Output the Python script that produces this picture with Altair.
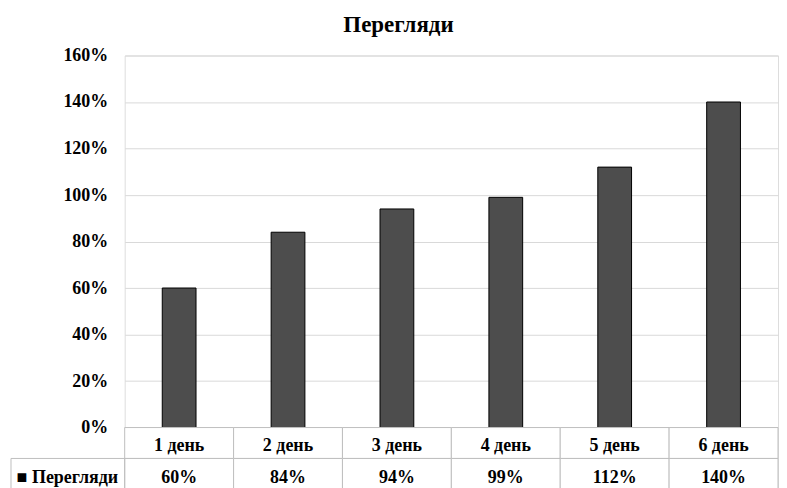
import altair as alt
import pandas as pd

categories = ["1 день", "2 день", "3 день", "4 день", "5 день", "6 день"]
values = [0.60, 0.84, 0.94, 0.99, 1.12, 1.40]
value_labels = ["60%", "84%", "94%", "99%", "112%", "140%"]
series_name = "Перегляди"
y_ticks = [0, 0.2, 0.4, 0.6, 0.8, 1.0, 1.2, 1.4, 1.6]

FONT = "Liberation Serif"
GRID = "#d9d9d9"
LINE = "#bfbfbf"
W = 655

bars_df = pd.DataFrame({"cat": categories, "value": values})

table_rows = []
for c, v in zip(categories, value_labels):
    table_rows.append({"cat": c, "row": "cat", "text": c})
    table_rows.append({"cat": c, "row": "val", "text": v})
table_df = pd.DataFrame(table_rows)
legend_df = pd.DataFrame({"row": ["val"], "name": [series_name]})

xscale_bar = alt.Scale(domain=categories, paddingInner=0.69, paddingOuter=0.345)
xscale_tab = alt.Scale(domain=categories, paddingInner=0, paddingOuter=0)
yrow_scale = alt.Scale(domain=["cat", "val"], paddingInner=0, paddingOuter=0)

bar_chart = alt.Chart(bars_df).mark_bar(
    fill="#4d4d4d", stroke="#000000", strokeWidth=1
).encode(
    x=alt.X("cat:N", scale=xscale_bar, axis=None, title=None),
    y=alt.Y(
        "value:Q",
        scale=alt.Scale(domain=[0, 1.6], nice=False),
        axis=alt.Axis(
            values=y_ticks,
            format=".0%",
            title=None,
            domain=False,
            ticks=False,
            grid=True,
            gridColor=GRID,
            gridWidth=1,
            labelFont=FONT,
            labelFontWeight="bold",
            labelFontSize=18,
            labelColor="#000000",
            labelPadding=17,
        ),
    ),
).properties(width=W, height=373)

cells = alt.Chart(table_df).mark_rect(
    fill="#ffffff", stroke=LINE, strokeWidth=1
).encode(
    x=alt.X("cat:N", scale=xscale_tab, axis=None, title=None),
    y=alt.Y(
        "row:N",
        scale=yrow_scale,
        title=None,
        axis=alt.Axis(
            labelExpr="datum.value == 'val' ? '■ " + series_name + "' : ''",
            domain=False,
            ticks=False,
            labelFont=FONT,
            labelFontWeight="bold",
            labelFontSize=18,
            labelColor="#000000",
            labelPadding=7,
            labelBaseline="middle",
            labelOffset=4,
        ),
    ),
)

cat_text = alt.Chart(table_df).transform_filter(
    alt.datum.row == "cat"
).mark_text(
    font=FONT, fontWeight="bold", fontSize=18, color="#000000", dy=3
).encode(
    x=alt.X("cat:N", scale=xscale_tab, axis=None),
    y=alt.Y("row:N", scale=yrow_scale),
    text="text:N",
)

val_text = alt.Chart(table_df).transform_filter(
    alt.datum.row == "val"
).mark_text(
    font=FONT, fontWeight="bold", fontSize=18, color="#000000", dy=4
).encode(
    x=alt.X("cat:N", scale=xscale_tab, axis=None),
    y=alt.Y("row:N", scale=yrow_scale),
    text="text:N",
)

legend_cell = alt.Chart(legend_df).mark_rect(
    fill="transparent", stroke=LINE, strokeWidth=1
).encode(
    x=alt.value(-114),
    x2=alt.value(0),
    y=alt.Y("row:N", scale=yrow_scale),
)

table_chart = alt.layer(cells, legend_cell, cat_text, val_text).properties(width=W, height=62)

chart = alt.vconcat(bar_chart, table_chart, spacing=0, bounds="flush").properties(
    title=alt.Title(
        series_name,
        font=FONT,
        fontSize=23,
        fontWeight="bold",
        color="#000000",
        anchor="middle",
        offset=9,
        dx=4,
    ),
    padding={"left": 2, "right": 0, "top": 5, "bottom": 0},
).configure_view(strokeWidth=0).configure(background="#ffffff")

chart.save("out.html", embed_options={"renderer": "svg", "actions": False})
